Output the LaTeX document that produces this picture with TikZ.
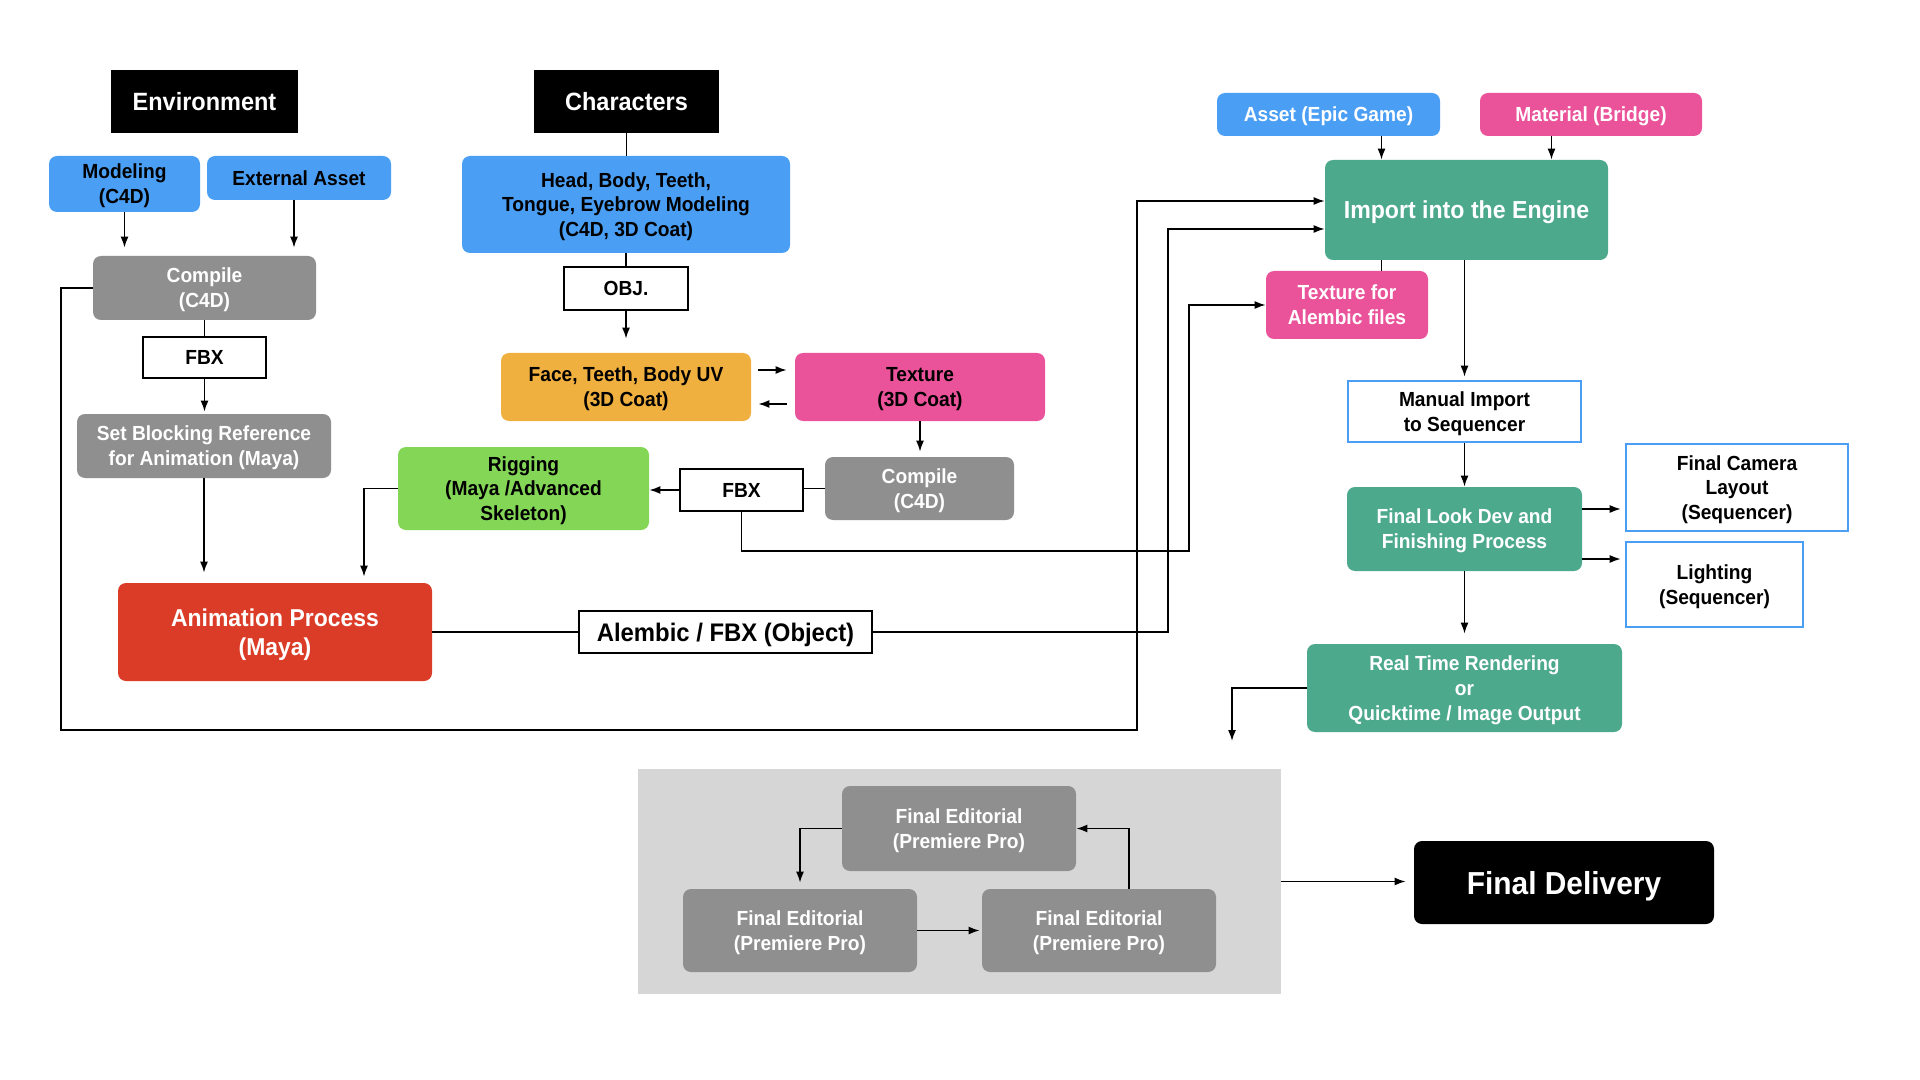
\documentclass[tikz,border=0pt]{standalone}
\usepackage{fontspec}
\setmainfont{Liberation Sans}[FakeStretch=0.94]
\usetikzlibrary{arrows.meta}
\definecolor{cblue}{HTML}{4A9FF5}
\definecolor{cgray}{HTML}{8F8F8F}
\definecolor{corange}{HTML}{F0B03F}
\definecolor{cpink}{HTML}{EA539A}
\definecolor{cgreen}{HTML}{84D657}
\definecolor{cred}{HTML}{DB3C27}
\definecolor{cteal}{HTML}{4DA98C}
\definecolor{cbg}{HTML}{D6D6D6}
\newcommand\myfs[2]{\fontsize{#1}{#2}\selectfont}
\begin{document}
\begin{tikzpicture}[x=0.5pt,y=-0.5pt,
  base/.style={rectangle, inner sep=0pt, align=center, text depth=0pt, font=\bfseries\myfs{10.2}{12.4}},
  sz/.style 2 args={minimum width=#1*0.5pt, minimum height=#2*0.5pt},
  hdr/.style={base, fill=black, text=white, font=\bfseries\myfs{12.5}{14}},
  rb/.style={base, rounded corners=4pt},
  obox/.style={base, draw=black, line width=1.2pt, fill=white},
  bbox/.style={base, draw=cblue, line width=1.3pt, fill=white},
  ln/.style={line width=0.75pt},
  arr/.style={line width=0.75pt, -{Latex[length=5.5pt,width=4pt]}}
]
\fill[white] (0,0) rectangle (1920,1080);
\useasboundingbox (0,0) rectangle (1920,1080);

% background panel
\node[fill=cbg, inner sep=0pt, sz={643}{225}] (bg) at (959.5,881.5) {};

% Environment column
\node[hdr, sz={187}{63}] (env) at (204.5,101.5) {Environment};
\node[rb, fill=cblue, sz={151}{56}] (model) at (124.5,184) {Modeling\\(C4D)};
\node[rb, fill=cblue, sz={184}{44}] (ext) at (299,178) {External Asset};
\node[rb, fill=cgray, text=white, sz={223}{64}] (cmpE) at (204.5,288) {Compile\\(C4D)};
\node[obox, sz={123}{41}] (fbxE) at (204.5,357.5) {FBX};
\node[rb, fill=cgray, text=white, sz={254}{64}] (block) at (204,446) {Set Blocking Reference\\for Animation (Maya)};
\node[rb, fill=cred, text=white, sz={314}{98}, font=\bfseries\myfs{12.2}{14.6}] (anim) at (275,632) {Animation Process\\(Maya)};

% Characters column
\node[hdr, sz={185}{63}] (chars) at (626.5,101.5) {Characters};
\node[rb, fill=cblue, sz={328}{97}] (head) at (626,204.5) {Head, Body, Teeth,\\Tongue, Eyebrow Modeling\\(C4D, 3D Coat)};
\node[obox, sz={124}{43}] (obj) at (626,288.5) {OBJ.};
\node[rb, fill=corange, sz={250}{68}] (face) at (626,387) {Face, Teeth, Body UV\\(3D Coat)};
\node[rb, fill=cpink, sz={250}{68}] (tex) at (920,387) {Texture\\(3D Coat)};
\node[rb, fill=cgray, text=white, sz={189}{63}] (cmpC) at (919.5,488.5) {Compile\\(C4D)};
\node[obox, sz={123}{42}] (fbxC) at (741.5,490) {FBX};
\node[rb, fill=cgreen, sz={251}{83}] (rig) at (523.5,488.5) {Rigging\\(Maya /Advanced\\Skeleton)};
\node[obox, sz={293}{42}, font=\bfseries\myfs{12.7}{14}] (alem) at (725.5,632) {Alembic / FBX (Object)};

% Engine column
\node[rb, fill=cblue, text=white, sz={223}{43}] (asset) at (1328.5,114.5) {Asset (Epic Game)};
\node[rb, fill=cpink, text=white, sz={222}{43}] (mat) at (1591,114.5) {Material (Bridge)};
\node[rb, fill=cteal, text=white, sz={283}{100}, font=\bfseries\myfs{12.3}{14}] (imp) at (1466.5,210) {Import into the Engine};
\node[rb, fill=cpink, text=white, sz={162}{68}] (texA) at (1347,305) {Texture for\\Alembic files};
\node[bbox, sz={233}{61}] (man) at (1464.5,411.5) {Manual Import\\to Sequencer};
\node[rb, fill=cteal, text=white, sz={235}{84}] (look) at (1464.5,529) {Final Look Dev and\\Finishing Process};
\node[bbox, sz={222}{87}] (cam) at (1737,487.5) {Final Camera\\Layout\\(Sequencer)};
\node[bbox, sz={177}{85}] (light) at (1714.5,584.5) {Lighting\\(Sequencer)};
\node[rb, fill=cteal, text=white, sz={315}{88}] (rt) at (1464.5,688) {Real Time Rendering\\or\\Quicktime / Image Output};

% Editorial
\node[rb, fill=cgray, text=white, sz={234}{85}] (feT) at (959,828.5) {Final Editorial\\(Premiere Pro)};
\node[rb, fill=cgray, text=white, sz={234}{83}] (feL) at (800,930.5) {Final Editorial\\(Premiere Pro)};
\node[rb, fill=cgray, text=white, sz={234}{83}] (feR) at (1099,930.5) {Final Editorial\\(Premiere Pro)};
\node[rb, fill=black, text=white, sz={300}{83}, font=\bfseries\myfs{15.9}{18}] (fd) at (1564,882.5) {Final Delivery};

\coordinate (rtEnd) at (1232,741);

% Environment connectors
\draw[arr, shorten >=4pt] (model.south) -- (model.south |- cmpE.north);
\draw[arr, shorten >=4pt] ([xshift=-2.5pt]ext.south) -- ([xshift=-2.5pt]ext.south |- cmpE.north);
\draw[ln] (cmpE.south) -- (fbxE.north);
\draw[arr, shorten >=1pt] (fbxE.south) -- (fbxE.south |- block.north);
\draw[arr, shorten >=5pt] (block.south) -- (block.south |- anim.north);
\draw[arr] (cmpE.west) -- (61,288) -- (61,730) -- (1137,730) |- ([yshift=4.5pt]imp.west);

% Characters connectors
\draw[ln] (chars.south) -- (chars.south |- head.north);
\draw[ln] (head.south) -- (obj.north);
\draw[arr, shorten >=7pt] (obj.south) -- (face.north);
\draw[arr] ([xshift=3.5pt,yshift=8.5pt]face.east) -- ([xshift=-4pt,yshift=8.5pt]tex.west);
\draw[arr] ([xshift=-4pt,yshift=-8.5pt]tex.west) -- ([xshift=3.5pt,yshift=-8.5pt]face.east);
\draw[arr, shorten >=2.5pt] (tex.south) -- (tex.south |- cmpC.north);
\draw[ln] (cmpC.west) -- (cmpC.west -| fbxC.east);
\draw[arr] (fbxC.west) -- (fbxC.west -| rig.east);
\draw[arr, shorten >=3pt] (rig.west) -| ([xshift=44.5pt]anim.north);
\draw[ln] (anim.east) -- (alem.west);
\draw[arr] (alem.east) -- (1168,632) |- ([yshift=-9.5pt]imp.west);
\draw[arr] (fbxC.south) -- (741.5,551) -- (1189,551) |- (texA.west);

% Engine connectors
\draw[arr] ([xshift=26.5pt]asset.south) -- ([xshift=26.5pt]asset.south |- imp.north);
\draw[arr] ([xshift=-19.75pt]mat.south) -- ([xshift=-19.75pt]mat.south |- imp.north);
\draw[ln] ([xshift=17.25pt]texA.north |- imp.south) -- ([xshift=17.25pt]texA.north);
\draw[arr, shorten >=1.5pt] (man.north |- imp.south) -- (man.north);
\draw[arr] (man.south) -- (look.north);
\draw[arr, shorten >=2pt] ([yshift=10pt]look.east) -- ([yshift=10pt]look.east -| cam.west);
\draw[arr, shorten >=2pt] ([yshift=-15pt]look.east) -- ([yshift=-15pt]look.east -| light.west);
\draw[arr, shorten >=5pt] (look.south) -- (look.south |- rt.north);
\draw[arr] (rt.west) -| (rtEnd);

% Editorial connectors
\draw[arr, shorten >=3pt] (feT.west) -| (feL.north);
\draw[arr, shorten >=1pt] (feL.east) -- (feR.west);
\draw[arr] ([xshift=15pt]feR.north) |- (feT.east);
\draw[arr, shorten >=4pt] (bg.east) -- (bg.east -| fd.west);
\end{tikzpicture}
\end{document}
